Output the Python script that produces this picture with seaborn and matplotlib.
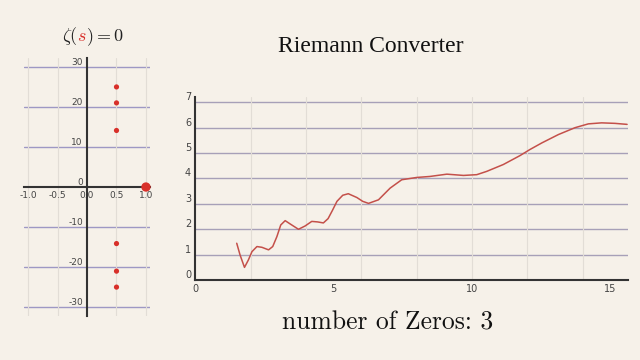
import numpy as np
import pandas as pd
import matplotlib
matplotlib.use("Agg")
import matplotlib.pyplot as plt
import seaborn as sns

# ---- data ----
zero_re = [0.5, 0.5, 0.5, 0.5, 0.5, 0.5]
zero_im = [14.13, 21.02, 25.01, -14.13, -21.02, -25.01]
pole_re = [1.0]
pole_im = [0.0]

curve_x = [1.50, 1.62, 1.78, 1.92, 2.05, 2.23, 2.41, 2.65, 2.80, 2.95, 3.09, 3.25,
           3.43, 3.73, 3.97, 4.21, 4.42, 4.63, 4.80, 4.96, 5.12, 5.33, 5.53, 5.84,
           6.05, 6.26, 6.62, 7.04, 7.46, 8.00, 8.48, 9.09, 9.69, 10.17, 10.53, 11.13,
           11.73, 12.09, 12.52, 13.12, 13.72, 14.20, 14.68, 15.16, 15.60]
curve_y = [1.45, 0.99, 0.50, 0.79, 1.12, 1.32, 1.29, 1.19, 1.32, 1.71, 2.17, 2.34,
           2.21, 2.00, 2.13, 2.31, 2.29, 2.25, 2.42, 2.75, 3.10, 3.34, 3.40, 3.25,
           3.10, 3.02, 3.16, 3.62, 3.95, 4.04, 4.08, 4.17, 4.12, 4.15, 4.28, 4.55,
           4.90, 5.14, 5.40, 5.73, 6.00, 6.15, 6.19, 6.17, 6.13]

n_zeros_label = "3"

# ---- style ----
bg = "#f6f1e9"
sns.set_theme(style="white")
plt.rcParams["mathtext.fontset"] = "cm"
plt.rcParams["font.family"] = ["DejaVu Sans"]

fig = plt.figure(figsize=(6.4, 3.6), dpi=100, facecolor=bg)

tick_col = "#444444"
hgrid_col = "#9e98c4"
hgrid_col_r = "#a7a0b8"
vgrid_col = "#e2ddd6"
spine_col = "#333333"
red = "#d8302a"

# ---- left: zeros plane ----
axL = fig.add_axes([0.0375, 0.122, 0.197, 0.717], facecolor=bg)
dfz = pd.DataFrame({"re": zero_re, "im": zero_im})
dfp = pd.DataFrame({"re": pole_re, "im": pole_im})
sns.scatterplot(data=dfz, x="re", y="im", ax=axL, color=red, s=14,
                edgecolor="none", zorder=5)
sns.scatterplot(data=dfp, x="re", y="im", ax=axL, color=red, s=45,
                edgecolor="none", zorder=5, clip_on=False)
axL.set_xlim(-1.07, 1.07)
axL.set_ylim(-32.25, 32.25)
axL.set_xticks([-1.0, -0.5, 0.0, 0.5, 1.0])
axL.set_yticks([-30, -20, -10, 0, 10, 20, 30])
axL.set_xticklabels(["-1.0", "-0.5", "0.0", "0.5", "1.0"])
axL.set_yticklabels(["-30", "-20", "-10", "0", "10", "20", "30"])
axL.set_xlabel("")
axL.set_ylabel("")
for sp in ["top", "right"]:
    axL.spines[sp].set_visible(False)
axL.spines["left"].set_position(("data", 0))
axL.spines["bottom"].set_position(("data", 0))
for sp in ["left", "bottom"]:
    axL.spines[sp].set_color(spine_col)
    axL.spines[sp].set_linewidth(1.5)
axL.tick_params(axis="both", length=2, width=1, colors=tick_col, labelsize=6.5, pad=1)
for lab in axL.get_yticklabels():
    lab.set_va("bottom")
for y in [-30, -20, -10, 10, 20, 30]:
    axL.axhline(y, color=hgrid_col, lw=1, zorder=0)
for x in [-1.0, -0.5, 0.5, 1.0]:
    axL.axvline(x, color=vgrid_col, lw=0.8, zorder=0)

# left title with red s: measure prefixes to place pieces
renderer = fig.canvas.get_renderer()
fs_t = 13
def width_of(s):
    t = fig.text(0, 0, s, fontsize=fs_t)
    w = t.get_window_extent(renderer).width
    t.remove()
    return w
wa = width_of(r"$\zeta($")
wb = width_of(r"$s$")
wab = width_of(r"$\zeta(s$")
wfull = width_of(r"$\zeta(s)=0$")
pad = wa + wb - wab
x0 = 93 - wfull / 2
x1 = x0 + wa - pad
x2 = x0 + wab - pad
ybase = 360 - 41
W, H = 640.0, 360.0
fig.text(x0 / W, ybase / H, r"$\zeta($", fontsize=fs_t, color="#222222", va="baseline")
fig.text(x1 / W, ybase / H, r"$s$", fontsize=fs_t, color=red, va="baseline")
fig.text(x2 / W, ybase / H, r"$)=0$", fontsize=fs_t, color="#222222", va="baseline")

# ---- right: converter curve ----
axR = fig.add_axes([0.305, 0.222, 0.677, 0.508], facecolor=bg)
dfc = pd.DataFrame({"x": curve_x, "y": curve_y})
sns.lineplot(data=dfc, x="x", y="y", ax=axR, color="#c4504a", lw=1.1, zorder=5)
axR.set_xlim(0, 15.65)
axR.set_ylim(0, 7.2)
axR.set_xticks([0, 5, 10, 15])
axR.set_yticks(range(0, 8))
axR.set_xlabel("")
axR.set_ylabel("")
for sp in ["top", "right"]:
    axR.spines[sp].set_visible(False)
for sp in ["left", "bottom"]:
    axR.spines[sp].set_color(spine_col)
    axR.spines[sp].set_linewidth(1.5)
axR.tick_params(axis="both", length=2, width=1, colors=tick_col, labelsize=7, pad=1)
for lab in axR.get_yticklabels():
    lab.set_va("bottom")
for y in range(1, 8):
    axR.axhline(y, color=hgrid_col_r, lw=1, zorder=0)
for x in [2, 4, 6, 8, 10, 12, 14]:
    axR.axvline(x, color=vgrid_col, lw=0.8, zorder=0)

fig.text(371 / 640, 1 - 47 / 360, "Riemann Converter", family="Liberation Serif",
         fontsize=17, color="#111111", ha="center", va="center")
fig.text(388 / 640, 1 - 323 / 360, "number of Zeros: " + n_zeros_label,
         family="cmr10", fontsize=18.4, color="#111111", ha="center", va="center")

fig.savefig("out.png", dpi=100, facecolor=bg)
